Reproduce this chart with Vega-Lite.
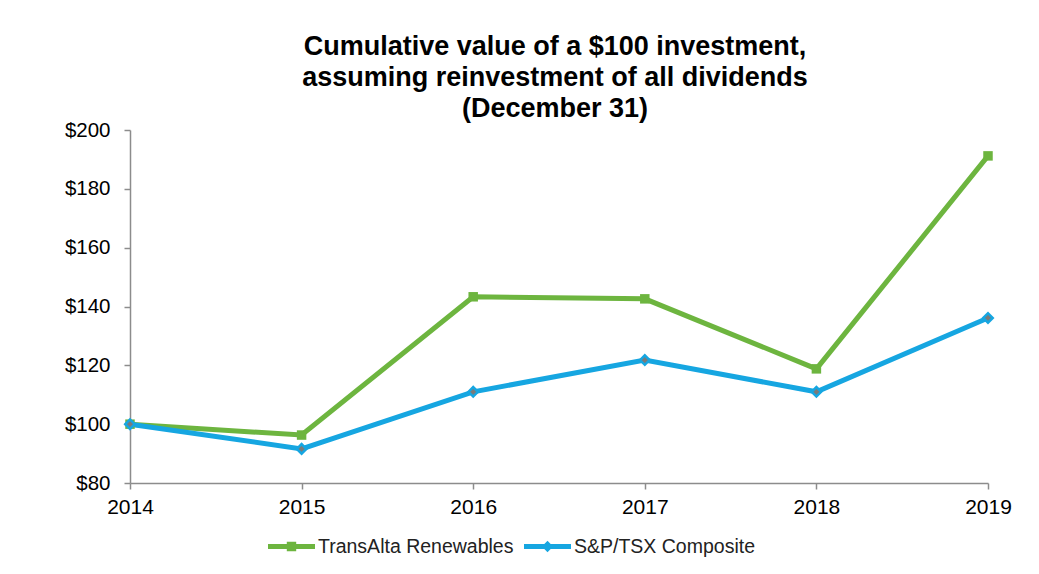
{
  "$schema": "https://vega.github.io/schema/vega-lite/v6.json",
  "autosize": "none",
  "width": 858,
  "height": 353,
  "padding": {"left": 130, "top": 130, "right": 51, "bottom": 91},
  "background": "white",
  "config": {"view": {"stroke": null}, "font": "Liberation Sans"},
  "title": {
    "text": ["Cumulative value of a $100 investment,", "assuming reinvestment of all dividends", "(December 31)"],
    "font": "Liberation Sans",
    "fontSize": 27,
    "fontWeight": "bold",
    "color": "#000000",
    "lineHeight": 31,
    "anchor": "middle",
    "offset": -3,
    "dx": -4
  },
  "data": {
    "values": [
      {"year": 2014, "series": "TransAlta Renewables", "value": 100},
      {"year": 2015, "series": "TransAlta Renewables", "value": 96.3},
      {"year": 2016, "series": "TransAlta Renewables", "value": 143.3},
      {"year": 2017, "series": "TransAlta Renewables", "value": 142.6},
      {"year": 2018, "series": "TransAlta Renewables", "value": 118.8},
      {"year": 2019, "series": "TransAlta Renewables", "value": 191.2},
      {"year": 2014, "series": "S&P/TSX Composite", "value": 100},
      {"year": 2015, "series": "S&P/TSX Composite", "value": 91.6},
      {"year": 2016, "series": "S&P/TSX Composite", "value": 111},
      {"year": 2017, "series": "S&P/TSX Composite", "value": 121.8},
      {"year": 2018, "series": "S&P/TSX Composite", "value": 111},
      {"year": 2019, "series": "S&P/TSX Composite", "value": 136.1}
    ]
  },
  "encoding": {
    "x": {
      "field": "year", "type": "quantitative",
      "scale": {"domain": [2014, 2019], "nice": false, "zero": false},
      "axis": {
        "title": null, "values": [2014, 2015, 2016, 2017, 2018, 2019], "format": "d",
        "grid": false, "domainColor": "#8c8c8c", "tickColor": "#8c8c8c", "tickSize": 6,
        "labelFlush": false, "labelOverlap": false,
        "labelFontSize": 21, "labelColor": "#000000", "labelPadding": 7, "domainWidth": 1.5, "tickWidth": 1.5
      }
    },
    "y": {
      "field": "value", "type": "quantitative",
      "scale": {"domain": [80, 200], "nice": false, "zero": false},
      "axis": {
        "title": null, "values": [80, 100, 120, 140, 160, 180, 200], "format": "$,.0f",
        "grid": false, "domainColor": "#8c8c8c", "tickColor": "#8c8c8c", "tickSize": 6,
        "labelFlush": false, "labelOverlap": false,
        "labelFontSize": 20.5, "labelColor": "#000000", "labelPadding": 14, "domainWidth": 1.5, "tickWidth": 1.5
      }
    }
  },
  "layer": [
    {
      "mark": {"type": "line", "strokeWidth": 5},
      "encoding": {
        "color": {
          "field": "series", "type": "nominal",
          "scale": {"domain": ["TransAlta Renewables", "S&P/TSX Composite"], "range": ["#6DB53F", "#16A6E1"]},
          "legend": {
            "title": null,
            "orient": "none",
            "legendX": 138,
            "legendY": 393,
            "direction": "horizontal",
            "labelFontSize": 19.5,
            "labelLimit": 400,
            "labelColor": "#222222",
            "labelOffset": 3,
            "columnPadding": 10,
            "symbolSize": 2209,
            "symbolStrokeWidth": 0,
            "symbolType": "M-1,-0.11H1V0.11H-1Z",
            "encode": {
              "symbols": {
                "update": {
                  "shape": {"signal": "datum.value == 'TransAlta Renewables' ? 'M-1,-0.11H1V0.11H-1Z M-0.2,-0.2H0.2V0.2H-0.2Z' : 'M-1,-0.11H1V0.11H-1Z M0,-0.24L0.24,0L0,0.24L-0.24,0Z'"},
                  "fill": {"signal": "datum.value == 'TransAlta Renewables' ? '#6DB53F' : '#16A6E1'"},
                  "strokeWidth": {"value": 0}
                }
              }
            }
          }
        }
      }
    },
    {
      "transform": [{"filter": "datum.series == 'TransAlta Renewables'"}],
      "mark": {"type": "point", "shape": "square", "filled": true, "size": 90, "color": "#6DB53F", "opacity": 1}
    },
    {
      "transform": [{"filter": "datum.series == 'S&P/TSX Composite'"}],
      "mark": {"type": "point", "shape": "diamond", "filled": true, "size": 90, "fill": "#7a7a7a", "stroke": "#16A6E1", "strokeWidth": 2.5, "opacity": 1}
    }
  ]
}
